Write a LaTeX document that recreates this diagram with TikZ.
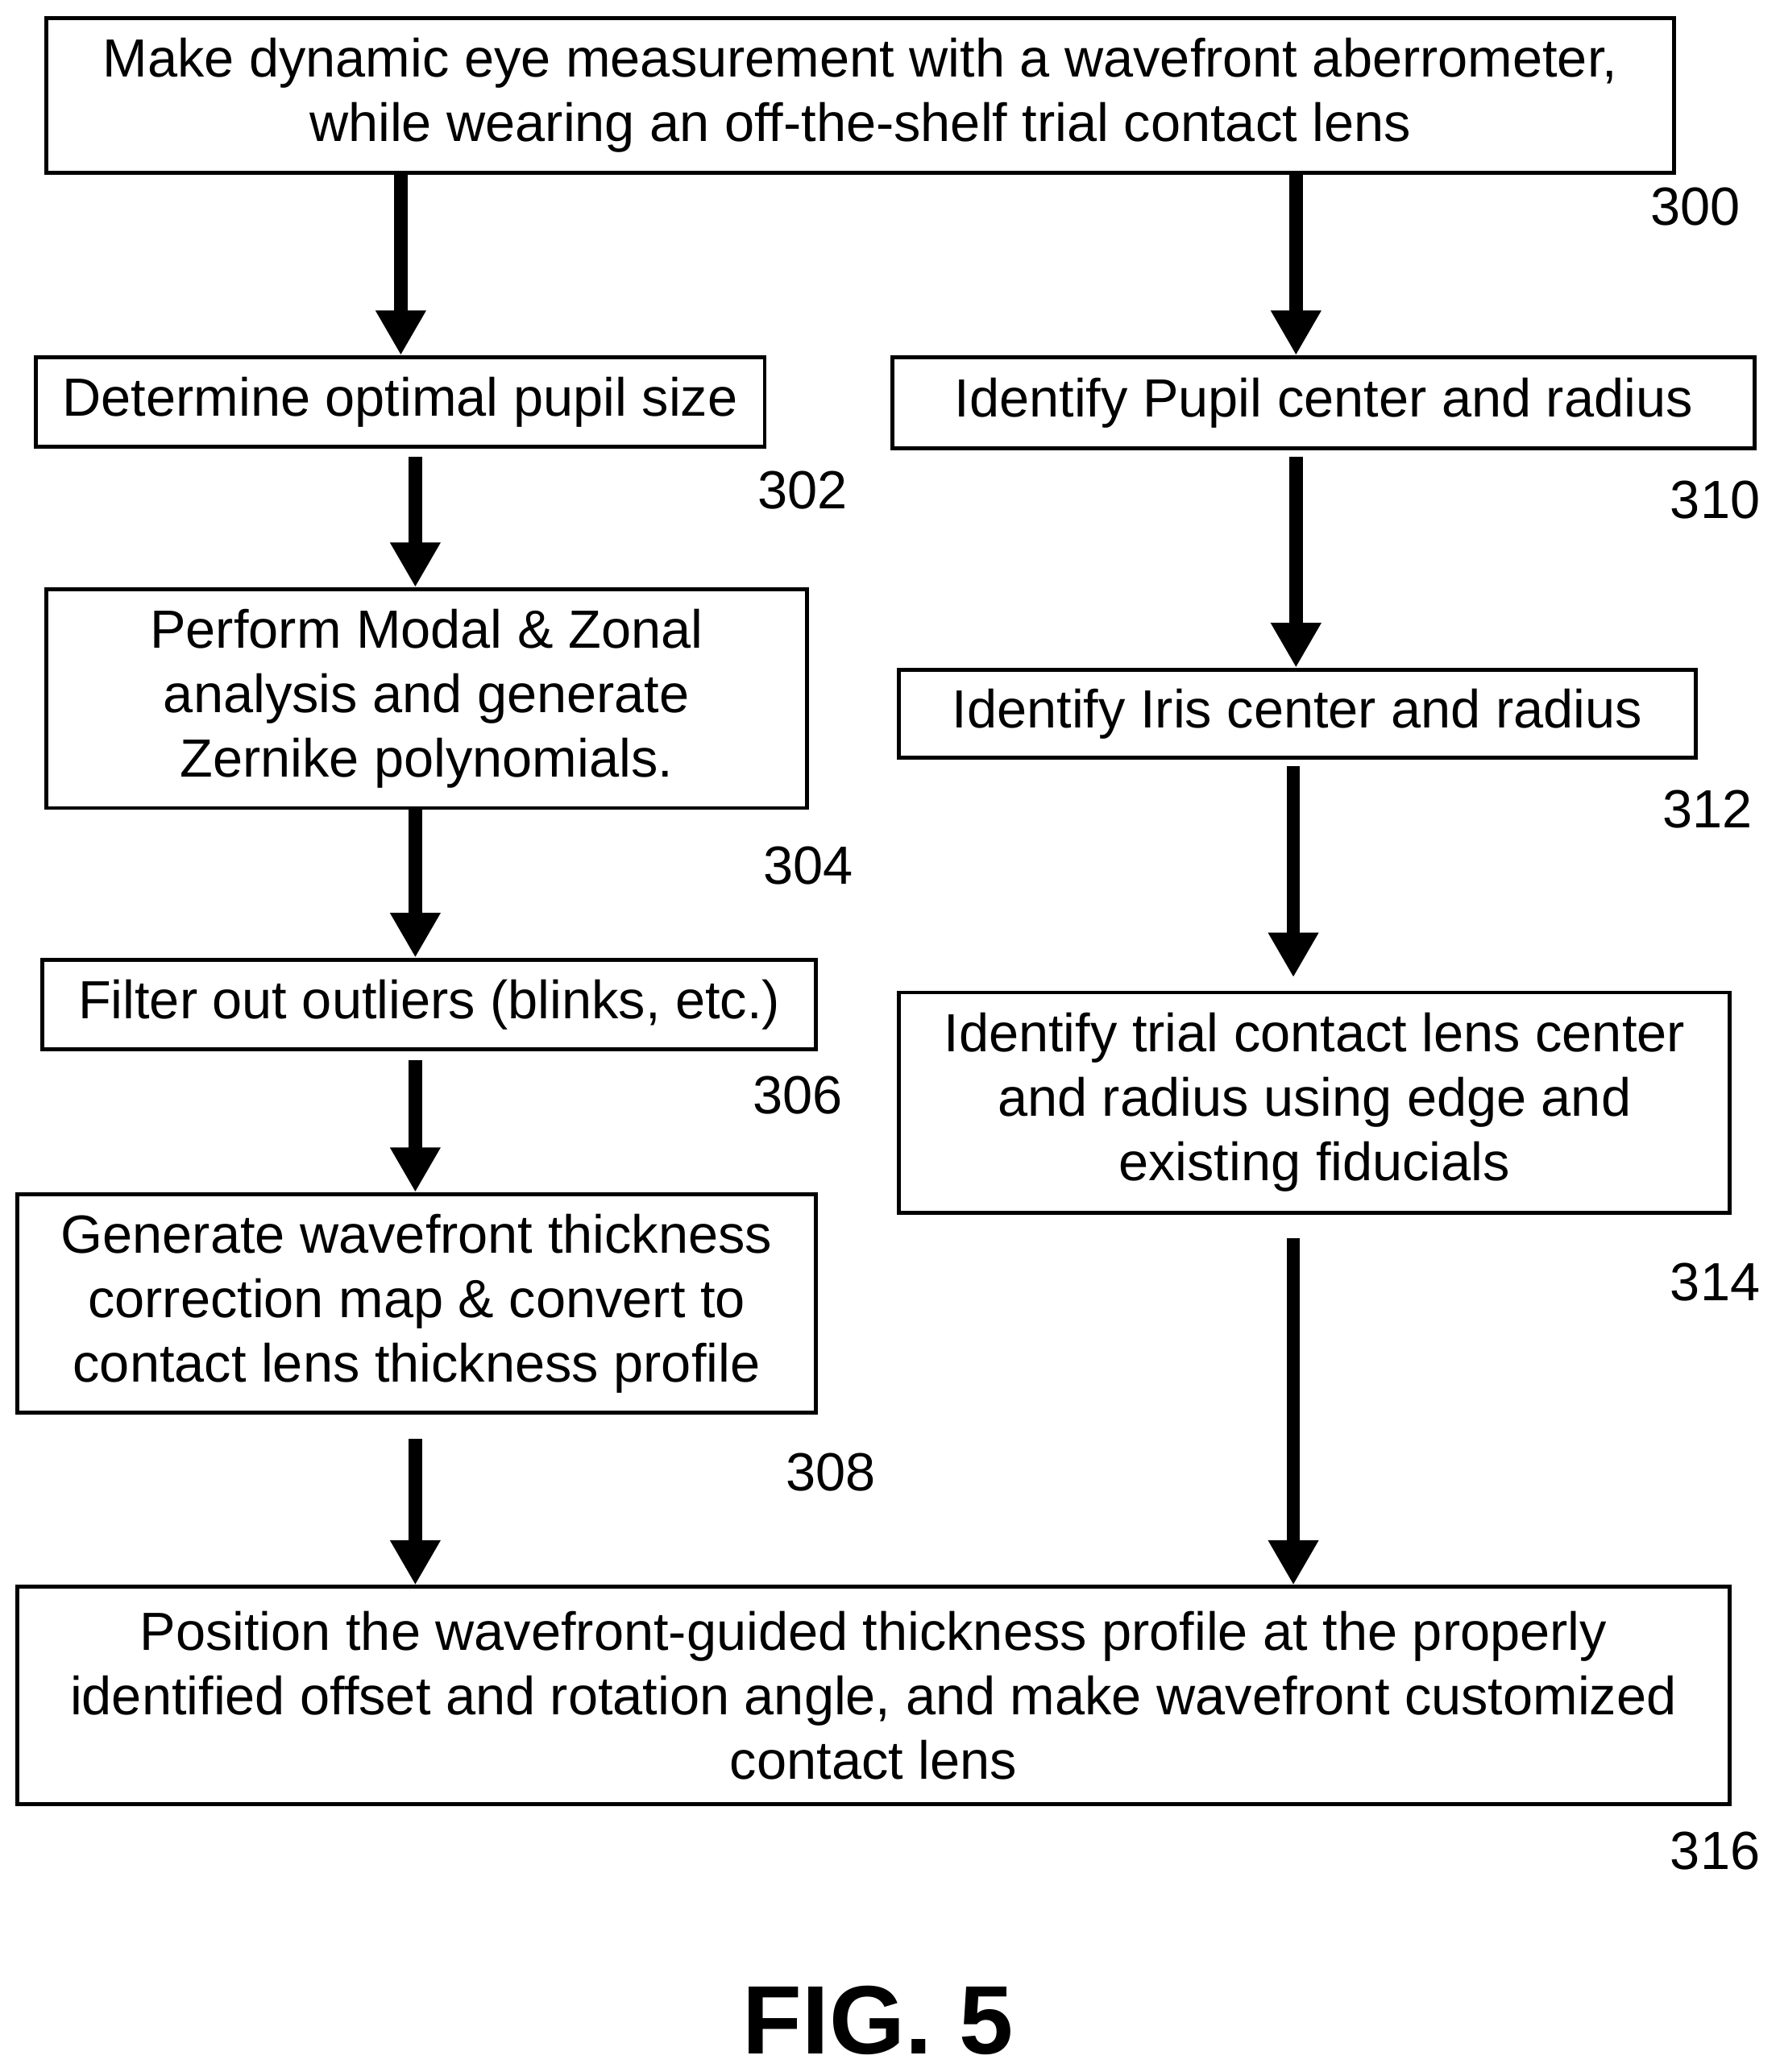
\documentclass[tikz,border=0pt]{standalone}
\usepackage{fontspec}
\setmainfont{Liberation Sans}
\usetikzlibrary{arrows.meta}
\tikzset{
  procbox/.style={draw,line width=0.3mm,inner sep=0pt,align=center,font=\fontsize{11.6}{13.9}\selectfont},
  ref/.style={font=\fontsize{11.6}{13.9}\selectfont},
  flow/.style={line width=1mm,-{Triangle[width=3.6mm,length=3.4mm]}}
}
\begin{document}
\begin{tikzpicture}[x=0.1mm,y=-0.1mm]
\useasboundingbox (0,0) rectangle (1350,1572);
% boxes
\node[procbox,minimum width=123.5mm,minimum height=11.7mm] (meas) at (652.5,72.5)
  {Make dynamic eye measurement with a wavefront aberrometer,\\while wearing an off-the-shelf trial contact lens};
\node[procbox,minimum width=55.3mm,minimum height=6.8mm] (pupil) at (303.5,305) {Determine optimal pupil size};
\node[procbox,minimum width=57.7mm,minimum height=16.6mm] (zern) at (323.5,530)
  {Perform Modal \& Zonal\\analysis and generate\\Zernike polynomials.};
\node[procbox,minimum width=58.7mm,minimum height=6.8mm] (filt) at (325.5,762) {Filter out outliers (blinks, etc.)};
\node[procbox,minimum width=60.6mm,minimum height=16.6mm] (thick) at (316,989)
  {Generate wavefront thickness\\correction map \& convert to\\contact lens thickness profile};
\node[procbox,minimum width=65.4mm,minimum height=6.9mm] (pcen) at (1004,305.5) {Identify Pupil center and radius};
\node[procbox,minimum width=60.4mm,minimum height=6.7mm] (icen) at (984,541.5) {Identify Iris center and radius};
\node[procbox,minimum width=63mm,minimum height=16.7mm] (lcen) at (997,836.5)
  {Identify trial contact lens center\\and radius using edge and\\existing fiducials};
\node[procbox,minimum width=129.9mm,minimum height=16.5mm] (pos) at (662.5,1286.5)
  {Position the wavefront-guided thickness profile at the properly\\identified offset and rotation angle, and make wavefront customized\\contact lens};
% reference numbers
\node[ref] (r300) at (1286,157) {300};
\node[ref] (r302) at (609,372) {302};
\node[ref] (r304) at (613,657) {304};
\node[ref] (r306) at (605,831) {306};
\node[ref] (r308) at (630,1117) {308};
\node[ref] (r310) at (1301,379) {310};
\node[ref] (r312) at (1295,614) {312};
\node[ref] (r314) at (1301,973) {314};
\node[ref] (r316) at (1301,1404) {316};
\node[font=\bfseries\fontsize{21}{25}\selectfont] (fig) at (666,1533) {FIG. 5};
% arrows
\draw[flow] (meas.south -| 304,0) -- (pupil.north -| 304,0);
\draw[flow] (meas.south -| 983,0) -- (pcen.north -| 983,0);
\draw[flow,shorten <=0.6mm] (pupil.south -| 315,0) -- (zern.north -| 315,0);
\draw[flow] (zern.south -| 315,0) -- (filt.north -| 315,0);
\draw[flow,shorten <=0.7mm] (filt.south -| 315,0) -- (thick.north -| 315,0);
\draw[flow,shorten <=1.8mm] (thick.south -| 315,0) -- (pos.north -| 315,0);
\draw[flow,shorten <=0.5mm] (pcen.south -| 983,0) -- (icen.north -| 983,0);
\draw[flow,shorten <=0.5mm,shorten >=1mm] (icen.south -| 981,0) -- (lcen.north -| 981,0);
\draw[flow,shorten <=1.8mm] (lcen.south -| 981,0) -- (pos.north -| 981,0);
\end{tikzpicture}
\end{document}
